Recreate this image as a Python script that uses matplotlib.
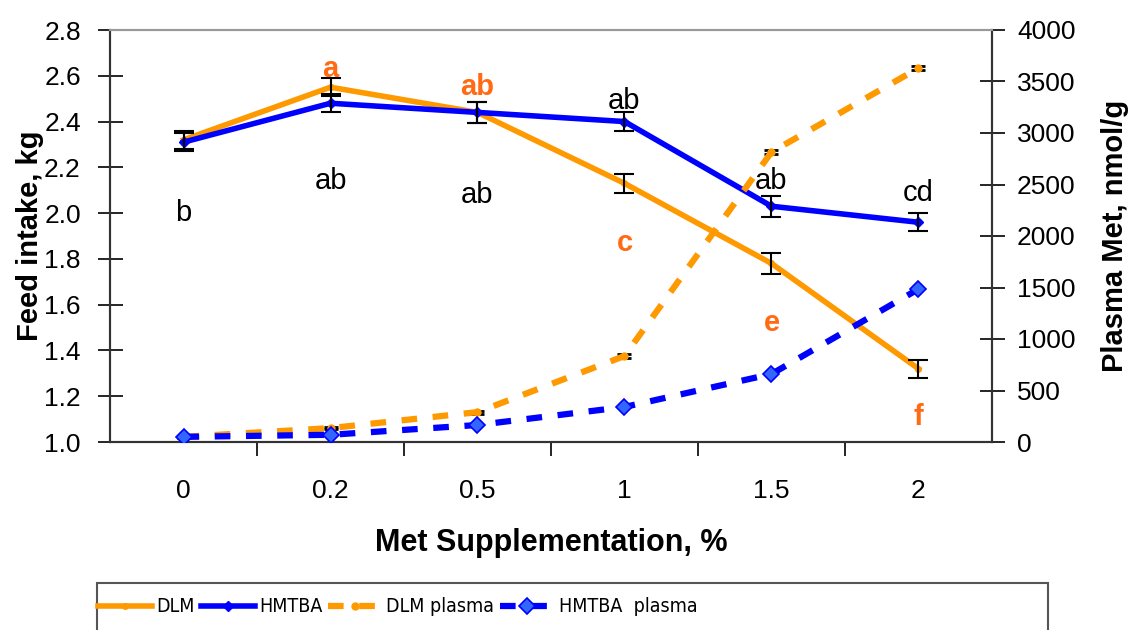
import matplotlib
matplotlib.use("Agg")
from matplotlib import pyplot as pl, patches as pt

# data
doses = ["0", "0.2", "0.5", "1", "1.5", "2"]
dlm_intake = [2.32, 2.55, 2.44, 2.13, 1.78, 1.32]
hmtba_intake = [2.31, 2.48, 2.44, 2.40, 2.03, 1.96]
intake_err = [0.04, 0.04, 0.045, 0.04, 0.045, 0.04]
dlm_plasma = [50, 135, 290, 835, 2815, 3630]
hmtba_plasma = [50, 70, 165, 340, 660, 1485]
plasma_err = [10, 10, 15, 15, 20, 20]

black_letters = ["b", "ab", "ab", "ab", "ab", "cd"]
black_letter_y = [2.00, 2.14, 2.08, 2.49, 2.14, 2.09]
orange_letters = ["", "a", "ab", "c", "e", "f"]
orange_letter_y = [0, 2.63, 2.55, 1.87, 1.52, 1.11]

orange = "#FF9900"
blue = "#0000FF"
letter_orange = "#FF6A13"

pl.rcParams['font.family'] = ['Liberation Sans', 'DejaVu Sans']

fig = pl.figure(figsize=(11.4, 6.3), dpi=100)
ax = fig.add_axes([110 / 1140, 1 - 442 / 630, (992 - 110) / 1140, (442 - 30) / 630])
ax2 = ax.twinx()

x = list(range(len(doses)))

l1, = ax.plot(x, dlm_intake, color=orange, lw=4, marker='o', ms=4, zorder=3)
ax.errorbar(x, dlm_intake, yerr=intake_err, fmt='none', ecolor='black', elinewidth=1.5, capsize=7, capthick=1.5, zorder=4)
l2, = ax.plot(x, hmtba_intake, color=blue, lw=4, marker='D', ms=5, zorder=3)
ax.errorbar(x, hmtba_intake, yerr=intake_err, fmt='none', ecolor='black', elinewidth=1.5, capsize=7, capthick=1.5, zorder=4)

l3, = ax2.plot(x, dlm_plasma, color=orange, lw=4.5, ls=(0, (2.5, 2.5)), marker='o', ms=5, zorder=3)
ax2.errorbar(x, dlm_plasma, yerr=plasma_err, fmt='none', ecolor='black', elinewidth=1.5, capsize=5, capthick=2, zorder=2)
l4, = ax2.plot(x, hmtba_plasma, color=blue, lw=4.5, ls=(0, (2.5, 2.5)), marker='D', ms=8,
               mfc='#3366FF', mec=blue, mew=1.2, zorder=3)

for i in x:
    ax.text(i, black_letter_y[i], black_letters[i], ha='center', va='center', fontsize=21, color='black', zorder=5)
    if orange_letters[i]:
        ax.text(i, orange_letter_y[i], orange_letters[i], ha='center', va='center', fontsize=21,
                color=letter_orange, fontweight='bold', zorder=5)

ax.set_xlim(-0.5, 5.5)
ax.set_ylim(1.0, 2.8)
ax.set_yticks([1.0 + 0.2 * k for k in range(10)])
ax.set_yticklabels(["%.1f" % (1.0 + 0.2 * k) for k in range(10)])
ax2.set_ylim(0, 4000)
ax2.set_yticks(range(0, 4001, 500))

ax.set_xticks(x)
ax.set_xticklabels(doses)
ax.set_xticks([0.5, 1.5, 2.5, 3.5, 4.5], minor=True)
ax.tick_params(axis='x', which='major', length=0, labelsize=19, pad=27)
ax.tick_params(axis='x', which='minor', length=10, width=1.2, direction='out')
ax.tick_params(axis='y', direction='inout', length=18, width=1.2, labelsize=19, pad=12)
ax2.tick_params(axis='y', direction='inout', length=18, width=1.2, labelsize=19, pad=9)

for a in (ax, ax2):
    a.spines['top'].set_color('#999999')
    a.spines['top'].set_linewidth(1.5)
    for s in ('left', 'right', 'bottom'):
        a.spines[s].set_color('#333333')
        a.spines[s].set_linewidth(1.5)

ax.set_xlabel("Met Supplementation, %", fontsize=22, fontweight='bold', labelpad=18)
ax.set_ylabel("Feed intake, kg", fontsize=21, fontweight='bold', labelpad=0)
ax2.set_ylabel("Plasma Met, nmol/g", fontsize=21, fontweight='bold', labelpad=18)

# legend box runs off the bottom edge like in the source picture
box = pt.Rectangle((97 / 1140, -0.02), (1048 - 97) / 1140, (632 - 585) / 630 + 0.02,
                   transform=fig.transFigure, fill=False, edgecolor='#555555', lw=1.5)
fig.patches.append(box)
leg = fig.legend([l1, l2, l3, l4], ["DLM", "HMTBA", "DLM plasma", "HMTBA  plasma"],
                 loc='center left', bbox_to_anchor=(98 / 1140, 1 - 607 / 630),
                 ncol=4, frameon=False, handlelength=2.8, handletextpad=0.2,
                 columnspacing=0.3, borderaxespad=0, borderpad=0,
                 prop={'family': 'DejaVu Sans', 'stretch': 'condensed', 'size': 14})

fig.savefig("out.png", dpi=100)
